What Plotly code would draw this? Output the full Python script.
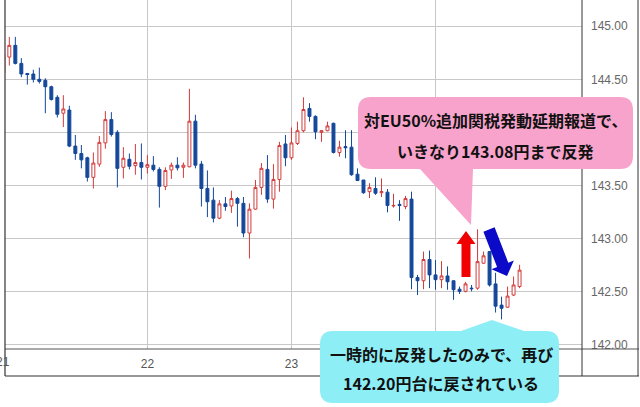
import math
import plotly.graph_objects as go

# ---------------- data (hourly USD/JPY candles) ----------------
open_ = [144.56, 144.71, 144.82, 144.65, 144.555, 144.55, 144.50, 144.49, 144.43, 144.33,
         144.18, 144.21, 143.87, 143.80, 143.76, 143.575, 143.70, 143.90, 144.12, 144.00,
         143.67, 143.745, 143.685, 143.715, 143.67, 143.69, 143.65, 143.49, 143.645, 143.69,
         143.67, 143.675, 144.105, 143.70, 143.47, 143.36, 143.19, 143.325, 143.305, 143.375,
         143.33, 143.05, 143.275, 143.48, 143.65, 143.37, 143.555, 143.89, 143.76, 143.895,
         144.015, 144.225, 144.15, 144.00, 144.015, 144.085, 143.81, 143.865, 143.86, 143.605,
         143.55, 143.44, 143.47, 143.43, 143.435, 143.305, 143.32, 143.30, 143.37, 142.63,
         142.60, 142.80, 142.655, 142.61, 142.645, 142.60, 142.52, 142.50, 142.53, 142.53,
         142.765, 142.875, 142.57, 142.37, 142.35, 142.465, 142.545]
high = [144.76, 144.90, 144.90, 144.70, 144.56, 144.59, 144.61, 144.51, 144.44, 144.35,
        144.35, 144.25, 143.975, 143.88, 143.77, 143.81, 143.965, 144.20, 144.19, 144.02,
        143.86, 143.80, 143.89, 143.895, 143.785, 143.775, 143.67, 143.67, 143.715, 143.765,
        143.715, 144.41, 144.165, 143.73, 143.64, 143.48, 143.36, 143.39, 143.45, 143.39,
        143.39, 143.33, 143.55, 143.71, 143.785, 143.70, 143.91, 143.975, 144.045, 144.10,
        144.33, 144.275, 144.16, 144.02, 144.10, 144.09, 143.92, 144.02, 144.02, 143.66,
        143.55, 143.52, 143.575, 143.565, 143.465, 143.42, 143.36, 143.40, 143.44, 142.655,
        142.875, 142.885, 142.795, 142.785, 142.735, 142.60, 142.545, 142.59, 142.56, 143.085,
        142.875, 142.88, 142.675, 142.45, 142.545, 142.64, 142.75]
low = [144.52, 144.63, 144.64, 144.52, 144.45, 144.47, 144.46, 144.18, 144.30, 144.14,
       144.05, 143.86, 143.74, 143.66, 143.535, 143.47, 143.675, 143.845, 143.96, 143.48,
       143.565, 143.65, 143.60, 143.555, 143.61, 143.63, 143.29, 143.455, 143.56, 143.64,
       143.57, 143.67, 143.66, 143.30, 143.20, 143.15, 143.18, 143.26, 143.24, 143.11,
       143.01, 142.81, 143.27, 143.41, 143.335, 143.28, 143.44, 143.68, 143.74, 143.88,
       144.00, 144.10, 143.935, 143.91, 144.01, 143.80, 143.77, 143.755, 143.59, 143.54,
       143.42, 143.38, 143.41, 143.39, 143.245, 143.29, 143.165, 143.275, 142.52, 142.465,
       142.52, 142.53, 142.515, 142.53, 142.515, 142.42, 142.475, 142.49, 142.50, 142.515,
       142.76, 142.545, 142.30, 142.235, 142.345, 142.455, 142.53]
close = [144.73, 144.82, 144.65, 144.55, 144.545, 144.50, 144.48, 144.43, 144.31, 144.17,
         144.22, 143.87, 143.80, 143.74, 143.575, 143.71, 143.905, 144.12, 143.98, 143.66,
         143.755, 143.68, 143.715, 143.67, 143.695, 143.65, 143.49, 143.64, 143.69, 143.665,
         143.69, 144.105, 143.69, 143.47, 143.345, 143.19, 143.325, 143.30, 143.375, 143.33,
         143.05, 143.275, 143.48, 143.66, 143.37, 143.555, 143.875, 143.76, 143.90, 144.015,
         144.215, 144.15, 144.005, 144.015, 144.06, 143.81, 143.86, 143.855, 143.60, 143.545,
         143.43, 143.48, 143.425, 143.44, 143.31, 143.31, 143.31, 143.375, 142.63, 142.60,
         142.80, 142.655, 142.61, 142.645, 142.59, 142.515, 142.50, 142.57, 142.525, 142.78,
         142.835, 142.56, 142.36, 142.34, 142.455, 142.56, 142.70]

# hourly time categories (weekend hours are not plotted)
times = []
for d in ["21", "22", "23"]:
    for h in range(24):
        times.append(f"5/{d} {h:02d}:00")
for h in range(6):
    times.append(f"5/24 {h:02d}:00")
for h in range(7, 16):
    times.append(f"5/26 {h:02d}:00")

day_ticks = ["5/22 00:00", "5/23 00:00", "5/24 00:00"]
day_labels = ["22", "23", ""]          # the "24" label is hidden under the cyan callout
first_day_label = "21"                  # sits on the left edge, mostly cut off
price_ticks = [142.0, 142.5, 143.0, 143.5, 144.0, 144.5, 145.0]
price_labels = ["142.00", "142.50", "143.00", "143.50", "", "144.50", "145.00"]  # 144.00 hidden by callout

pink_text = ["対EU50%追加関税発動延期報道で、", "いきなり143.08円まで反発"]
blue_text = ["一時的に反発したのみで、再び", "142.20円台に戻されている"]

# ---------------- layout geometry ----------------
W, H = 640, 407
ML, MR, MT, MB = 5, 58, 0, 58
PW, PH = W - ML - MR, H - MT - MB


def px(x):
    return (x - ML) / PW


def py(y):
    return (MT + PH - y) / PH


def P(x, y):
    return f"{px(x):.5f},{py(y):.5f}"


def callout_path(x0, y0, x1, y1, r, notch, side):
    pts = ["M" + P(x0 + r, y0)]
    if side == "top":
        a, apex, b = notch
        pts += ["L" + P(a, y0), "L" + P(*apex), "L" + P(b, y0)]
    pts.append("L" + P(x1 - r, y0))
    pts.append("Q" + P(x1, y0) + " " + P(x1, y0 + r))
    pts.append("L" + P(x1, y1 - r))
    pts.append("Q" + P(x1, y1) + " " + P(x1 - r, y1))
    if side == "bottom":
        a, apex, b = notch
        pts += ["L" + P(b, y1), "L" + P(*apex), "L" + P(a, y1)]
    pts.append("L" + P(x0 + r, y1))
    pts.append("Q" + P(x0, y1) + " " + P(x0, y1 - r))
    pts.append("L" + P(x0, y0 + r))
    pts.append("Q" + P(x0, y0) + " " + P(x0 + r, y0))
    return " ".join(pts) + " Z"


def arrow_path(sx, sy, tx, ty, hw_shaft, hw_head, head_len):
    dx, dy = tx - sx, ty - sy
    L = math.hypot(dx, dy)
    ux, uy = dx / L, dy / L
    nx, ny = -uy, ux
    bx, by = tx - head_len * ux, ty - head_len * uy
    pts = [(sx + hw_shaft * nx, sy + hw_shaft * ny),
           (bx + hw_shaft * nx, by + hw_shaft * ny),
           (bx + hw_head * nx, by + hw_head * ny),
           (tx, ty),
           (bx - hw_head * nx, by - hw_head * ny),
           (bx - hw_shaft * nx, by - hw_shaft * ny),
           (sx - hw_shaft * nx, sy - hw_shaft * ny)]
    return "M" + " L".join(P(x, y) for x, y in pts) + " Z"


UP = "#D23B3B"
DOWN = "#15489A"

fig = go.Figure(go.Candlestick(
    x=times, open=open_, high=high, low=low, close=close,
    increasing=dict(line=dict(color=UP, width=1), fillcolor="#FFFFFF"),
    decreasing=dict(line=dict(color=DOWN, width=1), fillcolor=DOWN),
    whiskerwidth=0, hoverinfo="skip", showlegend=False,
))

frame = "#333333"
shapes = [
    dict(type="line", xref="paper", yref="paper", x0=px(5), x1=px(639), y0=py(349), y1=py(349),
         line=dict(color="#555555", width=1)),
    dict(type="line", xref="paper", yref="paper", x0=px(5), x1=px(5), y0=py(0), y1=py(376),
         line=dict(color=frame, width=1.2)),
    dict(type="line", xref="paper", yref="paper", x0=px(5), x1=px(639), y0=py(376), y1=py(376),
         line=dict(color=frame, width=1.2)),
    dict(type="line", xref="paper", yref="paper", x0=px(582), x1=px(582), y0=py(0), y1=py(376),
         line=dict(color=frame, width=1)),
    dict(type="line", xref="paper", yref="paper", x0=px(638), x1=px(638), y0=py(0), y1=py(376),
         line=dict(color=frame, width=1)),
    # pink callout
    dict(type="path", xref="paper", yref="paper",
         path=callout_path(358, 97, 633, 169, 13, (420, (471, 225), 473), "bottom"),
         fillcolor="#F7A3CB", line=dict(width=0), layer="above"),
    # cyan callout
    dict(type="path", xref="paper", yref="paper",
         path=callout_path(320, 331, 559, 403, 13, (461, (492, 320), 524), "top"),
         fillcolor="#8DEEF6", line=dict(width=0), layer="above"),
    # red up arrow
    dict(type="path", xref="paper", yref="paper",
         path=arrow_path(466, 277, 466, 231, 4.5, 9.5, 13),
         fillcolor="#F00000", line=dict(width=0), layer="above"),
    # blue down arrow
    dict(type="path", xref="paper", yref="paper",
         path=arrow_path(489, 229.5, 507, 276, 6, 12, 12),
         fillcolor="#0A0AC8", line=dict(width=0), layer="above"),
]

jp_font = dict(family="Noto Sans CJK JP", size=16, color="#111111", weight="bold")
tick_font_x = dict(family="Liberation Sans", size=12, color="#555555")
annotations = [dict(xref="paper", yref="paper", x=px(3.3), y=py(362), text=first_day_label,
                    showarrow=False, xanchor="center", yanchor="middle", font=tick_font_x)]
for i, t in enumerate(pink_text):
    annotations.append(dict(xref="paper", yref="paper", x=px(495), y=py(120 + 31 * i), text=t,
                            showarrow=False, xanchor="center", yanchor="middle", font=jp_font))
for i, t in enumerate(blue_text):
    annotations.append(dict(xref="paper", yref="paper", x=px(441), y=py(354 + 29 * i), text=t,
                            showarrow=False, xanchor="center", yanchor="middle", font=jp_font))

fig.update_layout(
    width=W, height=H, autosize=False,
    margin=dict(l=ML, r=MR, t=MT, b=MB, pad=0),
    paper_bgcolor="#FFFFFF", plot_bgcolor="#FFFFFF",
    shapes=shapes, annotations=annotations,
    xaxis=dict(type="category", range=[0.28, 96.4], rangeslider=dict(visible=False),
               tickmode="array", tickvals=day_ticks, ticktext=day_labels,
               showgrid=True, gridcolor="#C8C8C8", gridwidth=1, ticks="", zeroline=False,
               showline=False, tickfont=tick_font_x, ticklabelstandoff=6),
    yaxis=dict(side="right", range=[141.956, 145.248], tickmode="array", tickvals=price_ticks,
               ticktext=price_labels, showgrid=True, gridcolor="#C8C8C8", gridwidth=1, ticks="",
               zeroline=False, showline=False,
               tickfont=dict(family="Liberation Sans", size=12, color="#666666"),
               ticklabelstandoff=8),
    hovermode=False,
)

fig.write_html("out.html", config={"displayModeBar": False, "staticPlot": True},
               post_script="document.body.style.margin='0';document.body.style.overflow='hidden';")
